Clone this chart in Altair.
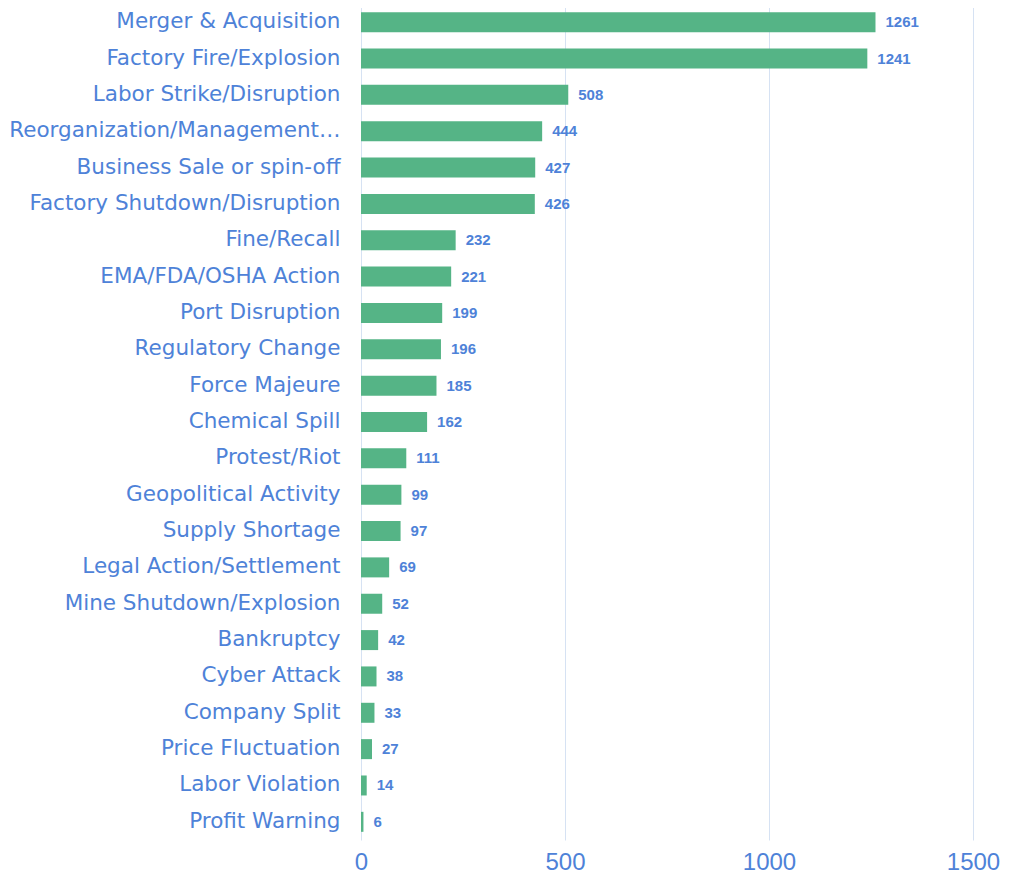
import altair as alt
import pandas as pd

categories = [
    "Merger & Acquisition", "Factory Fire/Explosion", "Labor Strike/Disruption",
    "Reorganization/Management…", "Business Sale or spin-off",
    "Factory Shutdown/Disruption", "Fine/Recall", "EMA/FDA/OSHA Action",
    "Port Disruption", "Regulatory Change", "Force Majeure", "Chemical Spill",
    "Protest/Riot", "Geopolitical Activity", "Supply Shortage",
    "Legal Action/Settlement", "Mine Shutdown/Explosion", "Bankruptcy",
    "Cyber Attack", "Company Split", "Price Fluctuation", "Labor Violation",
    "Profit Warning",
]
values = [1261, 1241, 508, 444, 427, 426, 232, 221, 199, 196, 185, 162,
          111, 99, 97, 69, 52, 42, 38, 33, 27, 14, 6]
x_ticks = [0, 500, 1000, 1500]

df = pd.DataFrame({"category": categories, "value": values})

BLUE = "#4e82d8"
GREEN = "#55b486"

y = alt.Y("category:N", sort=categories, title=None,
          scale=alt.Scale(paddingInner=0.45, paddingOuter=0.225),
          axis=alt.Axis(labelFont="DejaVu Sans", labelFontSize=21.5,
                        labelColor=BLUE, labelPadding=21, ticks=False,
                        domain=False, labelLimit=400))
x = alt.X("value:Q", title=None,
          scale=alt.Scale(domain=[0, 1500], nice=False),
          axis=alt.Axis(values=x_ticks, format="d", labelFont="Liberation Sans",
                        labelFontSize=24, labelColor=BLUE, labelPadding=10,
                        labelFlush=False,
                        ticks=False, domain=False, grid=True,
                        gridColor="#d6e2f3", gridWidth=1))

bars = alt.Chart(df).mark_bar(color=GREEN).encode(x=x, y=y)
text = alt.Chart(df).mark_text(align="left", baseline="middle", dx=10,
                               font="Liberation Sans", fontSize=15,
                               fontWeight="bold", color=BLUE).encode(
    x=alt.X("value:Q"), y=alt.Y("category:N", sort=categories),
    text=alt.Text("value:Q"))

chart = (bars + text).properties(
    width=612, height=836,
    padding={"top": -4, "left": 0, "right": 0, "bottom": 0},
).configure_view(stroke=None)

chart.save("out.html", embed_options={"renderer": "svg", "actions": False})
